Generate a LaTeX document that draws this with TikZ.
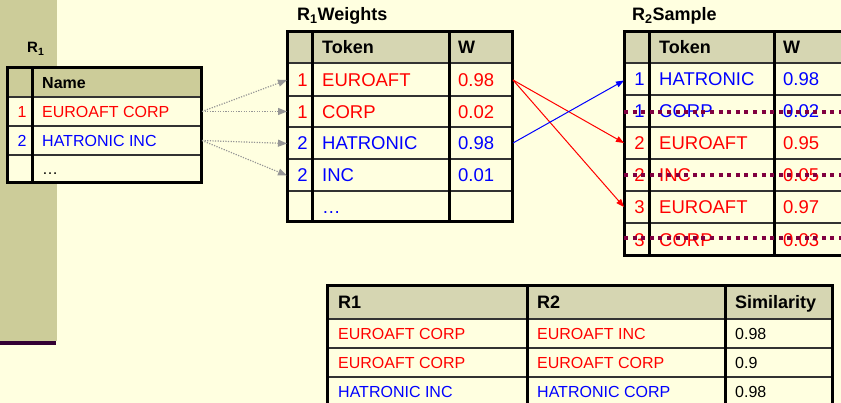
\documentclass[tikz,border=0pt]{standalone}
\usepackage{fontspec}
\setmainfont{Liberation Sans}
\usetikzlibrary{arrows.meta}
\definecolor{bgyel}{RGB}{255,255,224}
\definecolor{khaki}{RGB}{204,204,153}
\definecolor{hdrtex}{RGB}{214,214,178}
\definecolor{strikec}{RGB}{128,0,64}
\definecolor{stripline}{RGB}{51,0,51}
\definecolor{tred}{RGB}{255,0,0}
\definecolor{tblue}{RGB}{0,0,255}
\definecolor{feedgray}{RGB}{150,150,150}
\tikzset{
  cellA/.style={anchor=base west, inner sep=0pt, font=\fontsize{16}{19}\selectfont},
  cellB/.style={anchor=base west, inner sep=0pt, font=\fontsize{18.5}{22}\selectfont},
  idxA/.style={anchor=base, inner sep=0pt, font=\fontsize{16}{19}\selectfont},
  idxB/.style={anchor=base, inner sep=0pt, font=\fontsize{18.5}{22}\selectfont},
  hdrA/.style={anchor=base west, inner sep=0pt, font=\fontsize{16}{19}\selectfont\bfseries},
  hdrB/.style={anchor=base west, inner sep=0pt, font=\fontsize{18}{22}\selectfont\bfseries},
  ttl/.style={anchor=base west, inner sep=0pt, font=\fontsize{18}{22}\selectfont\bfseries},
  outerline/.style={line width=3pt, draw=black},
  rowline/.style={line width=1.5pt, draw=black!80},
  coldiv/.style={line width=3pt, draw=black},
  feed/.style={draw=feedgray, line width=1.2pt, dash pattern=on 1.2pt off 1.4pt,
    -{Triangle[length=9pt,width=7pt,fill=feedgray]}},
  matchr/.style={draw=tred, line width=1pt, -{Triangle[length=8pt,width=6pt]}},
  matchb/.style={draw=tblue, line width=1pt, -{Triangle[length=8pt,width=6pt]}},
  strike/.style={draw=strikec, line width=4pt, dash pattern=on 4pt off 4.6pt},
}
\begin{document}
\begin{tikzpicture}[x=1pt,y=-1pt]
\useasboundingbox (0,0) rectangle (841,403);
\clip (0,0) rectangle (841,403);
\fill[bgyel] (0,0) rectangle (841,403);
% left strip
\fill[khaki] (0,0) rectangle (57,341);
\fill[stripline] (0,341) rectangle (56,345);

% ---------- R1 table ----------
\node[ttl, font=\fontsize{15}{18}\selectfont\bfseries] (tR1) at (27,53) {R\textsubscript{1}};
\fill[khaki] (7,68) rectangle (201,97);
\fill[bgyel] (7,97) rectangle (201,183);
\foreach \y in {97,126,155} \draw[rowline] (7,\y) -- (201,\y);
\draw[coldiv] (32,68) -- (32,183);
\draw[outerline] (7,68) rectangle (201,183);
\node[hdrA] (hName) at (42,88.5) {Name};
\node[idxA, text=tred] (a1i) at (22,117.3) {1};
\node[cellA, text=tred] (a1) at (42,117.3) {EUROAFT CORP};
\node[idxA, text=tblue] (a2i) at (22,146.3) {2};
\node[cellA, text=tblue] (a2) at (42,146.3) {HATRONIC INC};
\node[cellA] (a3) at (42,174.8) {\dots};

% ---------- R1 Weights ----------
\node[ttl] (tW) at (297,20.7) {R\textsubscript{1}Weights};
\fill[hdrtex] (287,32) rectangle (512,63);
\fill[bgyel] (287,63) rectangle (512,222);
\foreach \y in {63,96,127,159,191} \draw[rowline] (287,\y) -- (512,\y);
\draw[coldiv] (312,32) -- (312,222);
\draw[coldiv] (449,32) -- (449,222);
\draw[outerline] (287,32) rectangle (512,222);
\node[hdrB] (wTok) at (322,54) {Token};
\node[hdrB] (wW) at (458,54) {W};
\node[idxB, text=tred] (w1i) at (302.5,86.3) {1};
\node[cellB, text=tred] (w1t) at (322,86.3) {EUROAFT};
\node[cellB, text=tred] (w1w) at (458,86.3) {0.98};
\node[idxB, text=tred] (w2i) at (302.5,118.2) {1};
\node[cellB, text=tred] (w2t) at (322,118.2) {CORP};
\node[cellB, text=tred] (w2w) at (458,118.2) {0.02};
\node[idxB, text=tblue] (w3i) at (302.5,149.7) {2};
\node[cellB, text=tblue] (w3t) at (322,149.7) {HATRONIC};
\node[cellB, text=tblue] (w3w) at (458,149.7) {0.98};
\node[idxB, text=tblue] (w4i) at (302.5,181.7) {2};
\node[cellB, text=tblue] (w4t) at (322,181.7) {INC};
\node[cellB, text=tblue] (w4w) at (458,181.7) {0.01};
\node[cellB, text=tblue] (w5t) at (322,213.3) {\dots};

% ---------- R2 Sample ----------
\node[ttl] (tS) at (632,20.7) {R\textsubscript{2}Sample};
\fill[hdrtex] (624,32) rectangle (850,63);
\fill[bgyel] (624,63) rectangle (850,256);
\foreach \y in {63,95,127,159,191,223} \draw[rowline] (624,\y) -- (850,\y);
\draw[coldiv] (649,32) -- (649,256);
\draw[coldiv] (774,32) -- (774,256);
\draw[outerline] (624,32) rectangle (850,256);
\node[hdrB] (sTok) at (659,54) {Token};
\node[hdrB] (sW) at (783,54) {W};
\node[idxB, text=tblue] (s1i) at (639.5,85.7) {1};
\node[cellB, text=tblue] (s1t) at (659,85.7) {HATRONIC};
\node[cellB, text=tblue] (s1w) at (783,85.7) {0.98};
\node[idxB, text=tblue] (s2i) at (639.5,117.7) {1};
\node[cellB, text=tblue] (s2t) at (659,117.7) {CORP};
\node[cellB, text=tblue] (s2w) at (783,117.7) {0.02};
\node[idxB, text=tred] (s3i) at (639.5,149.7) {2};
\node[cellB, text=tred] (s3t) at (659,149.7) {EUROAFT};
\node[cellB, text=tred] (s3w) at (783,149.7) {0.95};
\node[idxB, text=tred] (s4i) at (639.5,181.7) {2};
\node[cellB, text=tred] (s4t) at (659,181.7) {INC};
\node[cellB, text=tred] (s4w) at (783,181.7) {0.05};
\node[idxB, text=tred] (s5i) at (639.5,213.7) {3};
\node[cellB, text=tred] (s5t) at (659,213.7) {EUROAFT};
\node[cellB, text=tred] (s5w) at (783,213.7) {0.97};
\node[idxB, text=tred] (s6i) at (639.5,246.2) {3};
\node[cellB, text=tred] (s6t) at (659,246.2) {CORP};
\node[cellB, text=tred] (s6w) at (783,246.2) {0.03};
% strike-through lines
\coordinate (k1a) at (624,112); \coordinate (k1b) at (846,112);
\coordinate (k2a) at (624,175); \coordinate (k2b) at (846,175);
\coordinate (k3a) at (624,238); \coordinate (k3b) at (846,238);
\draw[strike] (k1a) -- (k1b);
\draw[strike] (k2a) -- (k2b);
\draw[strike] (k3a) -- (k3b);

% ---------- Result table ----------
\fill[hdrtex] (327,286) rectangle (832,319);
\fill[bgyel] (327,319) rectangle (832,410);
\foreach \y in {319,348,377} \draw[rowline] (327,\y) -- (832,\y);
\draw[coldiv] (527,286) -- (527,410);
\draw[coldiv] (725,286) -- (725,410);
\draw[outerline] (327,286) rectangle (832,410);
\node[hdrB] (rh1) at (338,309) {R1};
\node[hdrB] (rh2) at (537,309) {R2};
\node[hdrB] (rh3) at (735,309) {Similarity};
\node[cellA, text=tred] (r11) at (338,339.3) {EUROAFT CORP};
\node[cellA, text=tred] (r12) at (537,339.3) {EUROAFT INC};
\node[cellA] (r13) at (735,339.3) {0.98};
\node[cellA, text=tred] (r21) at (338,368.3) {EUROAFT CORP};
\node[cellA, text=tred] (r22) at (537,368.3) {EUROAFT CORP};
\node[cellA] (r23) at (735,368.3) {0.9};
\node[cellA, text=tblue] (r31) at (338,397.3) {HATRONIC INC};
\node[cellA, text=tblue] (r32) at (537,397.3) {HATRONIC CORP};
\node[cellA] (r33) at (735,397.3) {0.98};

% ---------- connectors ----------
\coordinate (n1) at (202,111.5);
\coordinate (n2) at (202,140.5);
\coordinate (win1) at (287,80);
\coordinate (win2) at (287,111.5);
\coordinate (win3) at (287,143.5);
\coordinate (win4) at (287,175.5);
\draw[feed] (n1) -- (win1);
\draw[feed] (n1) -- (win2);
\draw[feed] (n2) -- (win3);
\draw[feed] (n2) -- (win4);

\coordinate (wout1) at (513,80);
\coordinate (wout3) at (513,143);
\coordinate (sin1) at (624,80.5);
\coordinate (sin3) at (624,143);
\coordinate (sin5) at (624,207);
\draw[matchr] (wout1) -- (sin3);
\draw[matchr] (wout1) -- (sin5);
\draw[matchb] (wout3) -- (sin1);
\end{tikzpicture}
\end{document}
